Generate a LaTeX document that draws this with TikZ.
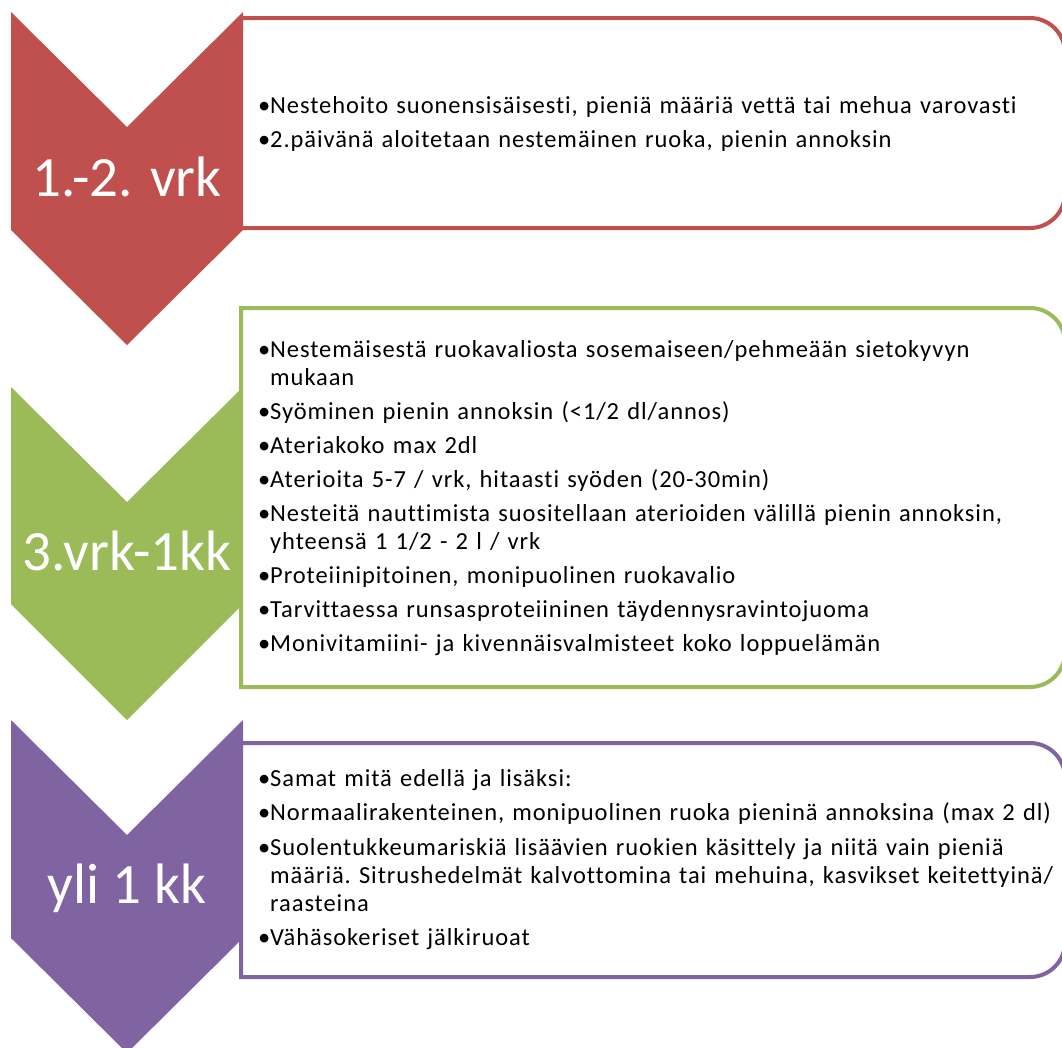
\documentclass[tikz,border=0pt]{standalone}
\usepackage{fontspec}
\setmainfont{Carlito}
\newfontfamily\bodyfont[LetterSpace=3.8,Ligatures=NoCommon]{Carlito}
\definecolor{cred}{HTML}{C0504D}
\definecolor{cgreen}{HTML}{9BBB59}
\definecolor{cpurple}{HTML}{8064A2}
\newcommand{\itm}[1]{\noindent\hangindent=12pt\hangafter=1\makebox[12pt][l]{•}#1\par}
\tikzset{
  chev/.style={fill=#1, draw=none},
  panel/.style={draw=#1, line width=4pt, fill=white},
  stagelabel/.style={text=white, font=\fontsize{57}{57}\selectfont, anchor=base, inner sep=0pt},
  itemtext/.style={anchor=north west, inner sep=0pt, text width=950pt, align=left,
    font=\bodyfont\fontsize{24.5}{28}\selectfont\frenchspacing},
}
\begin{document}
\begin{tikzpicture}[x=1pt,y=-1pt]
\useasboundingbox (0,0) rectangle (1062,1047);
\clip (0,0) rectangle (1062,1047);
% stage 1
\fill[chev=cred] (11,12) -- (127,127) -- (243,12) -- (243,230) -- (127,345) -- (11,230) -- cycle;
\draw[panel=cred] (241,18) -- (1030,18) arc (-90:0:35) -- (1065,193) arc (0:90:35) -- (241,228) -- cycle;
\node[stagelabel] (l1) at (127,196) {1.-2. vrk};
\node[itemtext] (t1) at (258,93) {\setlength\parskip{6pt}%
\itm{\rule{0pt}{20pt}Nestehoito suonensisäisesti, pieniä määriä vettä tai mehua varovasti}
\itm{2.päivänä aloitetaan nestemäinen ruoka, pienin annoksin}};
% stage 2
\fill[chev=cgreen] (11,387) -- (127,502) -- (243,387) -- (243,604) -- (127,720) -- (11,604) -- cycle;
\draw[panel=cgreen] (241,308) -- (1030,308) arc (-90:0:35) -- (1065,652) arc (0:90:35) -- (241,687) -- cycle;
\node[stagelabel] (l2) at (127,570) {3.vrk-1kk};
\node[itemtext] (t2) at (258,337) {\setlength\parskip{6pt}%
\itm{\rule{0pt}{20pt}Nestemäisestä ruokavaliosta sosemaiseen/pehmeään sietokyvyn\newline mukaan}
\itm{Syöminen pienin annoksin (<1/2 dl/annos)}
\itm{Ateriakoko max 2dl}
\itm{Aterioita 5-7 / vrk, hitaasti syöden (20-30min)}
\itm{Nesteitä nauttimista suositellaan aterioiden välillä pienin annoksin,\newline yhteensä 1 1/2 - 2 l / vrk}
\itm{Proteiinipitoinen, monipuolinen ruokavalio}
\itm{Tarvittaessa runsasproteiininen täydennysravintojuoma}
\itm{Monivitamiini- ja kivennäisvalmisteet koko loppuelämän}};
% stage 3
\fill[chev=cpurple] (11,720) -- (127,835) -- (243,720) -- (243,938) -- (127,1053) -- (11,938) -- cycle;
\draw[panel=cpurple] (241,743) -- (1030,743) arc (-90:0:35) -- (1065,942) arc (0:90:35) -- (241,977) -- cycle;
\node[stagelabel] (l3) at (127,903) {yli 1 kk};
\node[itemtext] (t3) at (258,766) {\setlength\parskip{6.5pt}%
\itm{\rule{0pt}{20pt}Samat mitä edellä ja lisäksi:}
\itm{Normaalirakenteinen, monipuolinen ruoka pieninä annoksina (max 2 dl)}
\itm{Suolentukkeumariskiä lisäävien ruokien käsittely ja niitä vain pieniä\newline määriä. Sitrushedelmät kalvottomina tai mehuina, kasvikset keitettyinä/\newline raasteina}
\itm{Vähäsokeriset jälkiruoat}};
\end{tikzpicture}
\end{document}
